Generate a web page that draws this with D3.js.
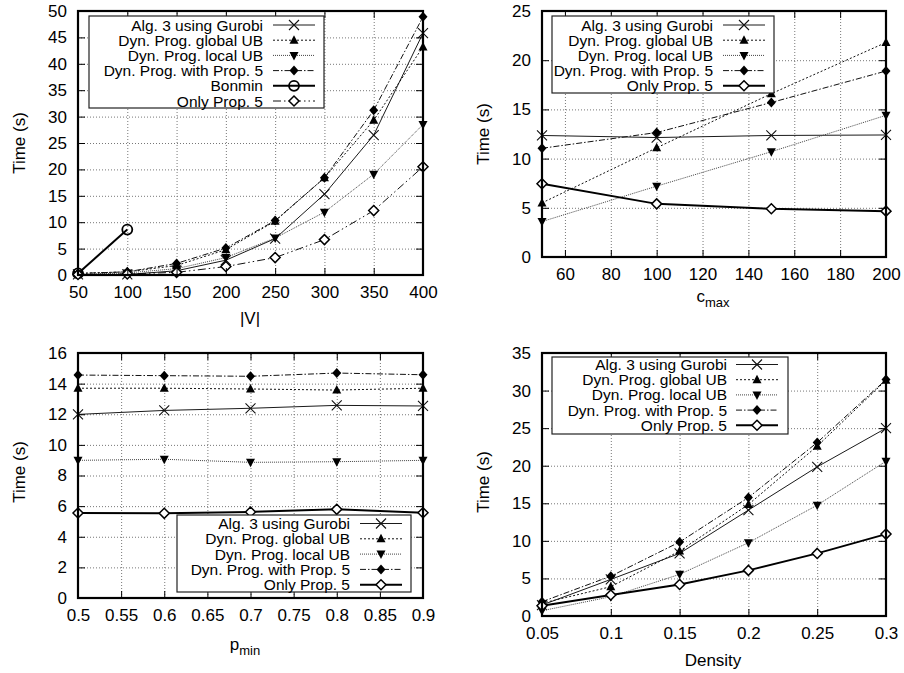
<!DOCTYPE html>
<html>
<head>
<meta charset="utf-8">
<script src="https://cdn.jsdelivr.net/npm/d3@7"></script>
<style>
  body { margin: 0; background: #fff; }
  svg { display: block; font-family: "Liberation Sans", Arial, sans-serif; }
</style>
</head>
<body>
<svg id="chart" width="904" height="673"></svg>
<script>
// ─── data ───────────────────────────────────────────────────────────────────
var LEGEND_NAMES = ['Alg. 3 using Gurobi', 'Dyn. Prog. global UB', 'Dyn. Prog. local UB',
  'Dyn. Prog. with Prop. 5', 'Bonmin', 'Only Prop. 5'];

// panel 1: |V|
var vSizes = [50, 100, 150, 200, 250, 300, 350, 400];
var vGurobi = [0.1, 0.1, 0.8, 2.8, 6.9, 15.3, 26.5, 45.8];
var vGlobalUB = [0.3, 0.6, 1.8, 4.8, 10.2, 18.4, 29.3, 43.2];
var vLocalUB = [0.1, 0.4, 1.2, 3.3, 7.0, 11.9, 19.1, 28.5];
var vWithProp5 = [0.3, 0.6, 2.2, 5.1, 10.3, 18.4, 31.2, 48.9];
var bonminSizes = [50, 100];
var vBonmin = [0.3, 8.6];
var vOnlyProp5 = [0.1, 0.2, 0.5, 1.6, 3.3, 6.7, 12.2, 20.5];
var vTicks = [50, 100, 150, 200, 250, 300, 350, 400];
var vTimeTicks = [0, 5, 10, 15, 20, 25, 30, 35, 40, 45, 50];

// panel 2: c_max
var cMax = [50, 100, 150, 200];
var cGurobi = [12.35, 12.14, 12.35, 12.4];
var cGlobalUB = [5.5, 11.1, 16.6, 21.8];
var cLocalUB = [3.6, 7.2, 10.7, 14.4];
var cWithProp5 = [11.05, 12.65, 15.7, 18.9];
var cOnlyProp5 = [7.45, 5.4, 4.9, 4.66];
var cTicks = [60, 80, 100, 120, 140, 160, 180, 200];
var cTimeTicks = [0, 5, 10, 15, 20, 25];

// panel 3: p_min
var pMin = [0.5, 0.6, 0.7, 0.8, 0.9];
var pGurobi = [11.99, 12.25, 12.39, 12.58, 12.54];
var pGlobalUB = [13.7, 13.7, 13.65, 13.58, 13.7];
var pLocalUB = [8.99, 9.06, 8.86, 8.9, 8.99];
var pWithProp5 = [14.56, 14.52, 14.48, 14.69, 14.58];
var pOnlyProp5 = [5.55, 5.53, 5.62, 5.79, 5.57];
var pTicks = [0.5, 0.55, 0.6, 0.65, 0.7, 0.75, 0.8, 0.85, 0.9];
var pTimeTicks = [0, 2, 4, 6, 8, 10, 12, 14, 16];

// panel 4: density
var density = [0.05, 0.1, 0.15, 0.2, 0.25, 0.3];
var dGurobi = [1.46, 4.87, 8.33, 14.09, 19.85, 24.99];
var dGlobalUB = [1.7, 3.9, 8.64, 14.84, 22.6, 31.37];
var dLocalUB = [0.7, 2.57, 5.54, 9.75, 14.75, 20.6];
var dWithProp5 = [1.9, 5.3, 9.84, 15.77, 23.08, 31.46];
var dOnlyProp5 = [1.37, 2.79, 4.2, 6.07, 8.33, 10.9];
var dTicks = [0.05, 0.1, 0.15, 0.2, 0.25, 0.3];
var dTimeTicks = [0, 5, 10, 15, 20, 25, 30, 35];

// ─── styles per series ──────────────────────────────────────────────────────
var STYLE = {
  gurobi:   { dash: null, width: 1, color: '#1a1a1a', marker: 'cross' },
  globalUB: { dash: '2 2', width: 1, color: '#111', marker: 'triUp' },
  localUB:  { dash: '1 1', width: 1, color: '#444', marker: 'triDown' },
  prop5:    { dash: '6 2 1.5 2', width: 1, color: '#111', marker: 'diamond' },
  bonmin:   { dash: null, width: 2, color: '#000', marker: 'circle' },
  onlyThin: { dash: '8 3 1.5 3 1.5 3', width: 1, color: '#111', marker: 'openDiamond' },
  onlyBold: { dash: null, width: 2, color: '#000', marker: 'openDiamond' }
};

var svg = d3.select('#chart');

function drawMarker(g, kind, x, y) {
  if (kind === 'cross') {
    g.append('path').attr('d', 'M' + (x - 5) + ',' + (y - 5) + 'L' + (x + 5) + ',' + (y + 5) +
      'M' + (x - 5) + ',' + (y + 5) + 'L' + (x + 5) + ',' + (y - 5))
      .attr('stroke', '#111').attr('stroke-width', 1.1).attr('fill', 'none');
  } else if (kind === 'triUp') {
    g.append('path').attr('d', 'M' + x + ',' + (y - 5) + 'L' + (x + 4.5) + ',' + (y + 3.5) +
      'L' + (x - 4.5) + ',' + (y + 3.5) + 'Z').attr('fill', '#000');
  } else if (kind === 'triDown') {
    g.append('path').attr('d', 'M' + x + ',' + (y + 5) + 'L' + (x + 4.5) + ',' + (y - 3.5) +
      'L' + (x - 4.5) + ',' + (y - 3.5) + 'Z').attr('fill', '#000');
  } else if (kind === 'diamond') {
    g.append('path').attr('d', 'M' + x + ',' + (y - 5) + 'L' + (x + 4.5) + ',' + y +
      'L' + x + ',' + (y + 5) + 'L' + (x - 4.5) + ',' + y + 'Z').attr('fill', '#000');
  } else if (kind === 'openDiamond') {
    g.append('path').attr('d', 'M' + x + ',' + (y - 5) + 'L' + (x + 5) + ',' + y +
      'L' + x + ',' + (y + 5) + 'L' + (x - 5) + ',' + y + 'Z')
      .attr('fill', '#fff').attr('stroke', '#000').attr('stroke-width', 1.5);
  } else if (kind === 'circle') {
    g.append('circle').attr('cx', x).attr('cy', y).attr('r', 5)
      .attr('fill', 'none').attr('stroke', '#000').attr('stroke-width', 1.8);
  }
}

function drawPanel(cfg) {
  var b = cfg.box;
  var x = d3.scaleLinear().domain(cfg.xDomain).range([b.left, b.right]);
  var y = d3.scaleLinear().domain(cfg.yDomain).range([b.bottom, b.top]);
  var g = svg.append('g');
  var w = b.right - b.left, h = b.bottom - b.top;

  // grid (dotted)
  var xg = cfg.xTicks.filter(function (t) { return x(t) > b.left + 1 && x(t) < b.right - 1; });
  var yg = cfg.yTicks.filter(function (t) { return y(t) > b.top + 1 && y(t) < b.bottom - 1; });
  g.append('g').attr('transform', 'translate(0,' + b.bottom + ')')
    .call(d3.axisBottom(x).tickValues(xg).tickSize(-h).tickFormat(''))
    .call(function (s) { s.select('.domain').remove(); })
    .selectAll('line').attr('stroke', '#777').attr('stroke-dasharray', '1 2');
  g.append('g').attr('transform', 'translate(' + b.left + ',0)')
    .call(d3.axisLeft(y).tickValues(yg).tickSize(-w).tickFormat(''))
    .call(function (s) { s.select('.domain').remove(); })
    .selectAll('line').attr('stroke', '#777').attr('stroke-dasharray', '1 2');

  // series lines + markers
  cfg.series.forEach(function (s) {
    var st = STYLE[s.style];
    var pts = s.xs.map(function (xv, i) { return [x(xv), y(s.ys[i])]; });
    g.append('path').attr('d', d3.line()(pts)).attr('fill', 'none')
      .attr('stroke', st.color).attr('stroke-width', st.width)
      .attr('stroke-dasharray', st.dash);
    pts.forEach(function (p) { drawMarker(g, st.marker, p[0], p[1]); });
  });

  // ticks: inward, mirrored on all sides
  var tickStyle = function (s) {
    s.select('.domain').remove();
    s.selectAll('line').attr('stroke', '#000').attr('stroke-width', 1);
    s.selectAll('text').attr('font-size', 17).attr('fill', '#000')
      .attr('font-family', '"Liberation Sans", Arial, sans-serif');
  };
  g.append('g').attr('transform', 'translate(0,' + b.bottom + ')')
    .call(d3.axisBottom(x).tickValues(cfg.xTicks).tickSize(-7).tickPadding(11)
      .tickFormat(cfg.xFormat)).call(tickStyle);
  g.append('g').attr('transform', 'translate(0,' + b.top + ')')
    .call(d3.axisTop(x).tickValues(cfg.xTicks).tickSize(-7).tickFormat('')).call(tickStyle);
  g.append('g').attr('transform', 'translate(' + b.left + ',0)')
    .call(d3.axisLeft(y).tickValues(cfg.yTicks).tickSize(-7).tickPadding(11)).call(tickStyle);
  g.append('g').attr('transform', 'translate(' + b.right + ',0)')
    .call(d3.axisRight(y).tickValues(cfg.yTicks).tickSize(-7).tickFormat('')).call(tickStyle);

  // frame
  g.append('rect').attr('x', b.left).attr('y', b.top).attr('width', w).attr('height', h)
    .attr('fill', 'none').attr('stroke', '#000').attr('stroke-width', 2.2);

  // legend
  var L = cfg.legend;
  var lg = g.append('g');
  lg.append('rect').attr('x', L.x0).attr('y', L.y0).attr('width', L.x1 - L.x0)
    .attr('height', L.y1 - L.y0).attr('fill', '#fff').attr('stroke', '#222').attr('stroke-width', 1.2);
  cfg.series.forEach(function (s, i) {
    var st = STYLE[s.style];
    var cy = L.rowTop + i * L.rowH;
    lg.append('text').attr('x', L.textRight).attr('y', cy).attr('dy', '0.36em')
      .attr('text-anchor', 'end').attr('font-size', 15.5).attr('fill', '#000').text(s.name);
    lg.append('line').attr('x1', L.sample0).attr('x2', L.sample1).attr('y1', cy).attr('y2', cy)
      .attr('stroke', st.color).attr('stroke-width', st.width).attr('stroke-dasharray', st.dash);
    drawMarker(lg, st.marker, (L.sample0 + L.sample1) / 2, cy);
  });

  // axis titles
  g.append('text').attr('transform', 'translate(' + cfg.yLabelPos[0] + ',' + cfg.yLabelPos[1] + ') rotate(-90)')
    .attr('text-anchor', 'middle').attr('dy', '0.35em').attr('font-size', 17).text('Time (s)');
  var xl = g.append('text').attr('x', cfg.xLabelPos[0]).attr('y', cfg.xLabelPos[1])
    .attr('text-anchor', 'middle').attr('font-size', 17);
  xl.append('tspan').text(cfg.xLabel[0]);
  if (cfg.xLabel[1]) {
    xl.append('tspan').attr('font-size', 13).attr('dy', 5).text(cfg.xLabel[1]);
  }
}

var fmt = function (d) { return String(d); };

drawPanel({
  box: { left: 78, right: 423, top: 11, bottom: 275 },
  xDomain: [50, 400], yDomain: [0, 50], xTicks: vTicks, yTicks: vTimeTicks, xFormat: fmt,
  xLabel: ['|V|'], xLabelPos: [250, 324], yLabelPos: [19, 143],
  legend: { x0: 89, x1: 324, y0: 16, y1: 108, rowTop: 25, rowH: 15.2, textRight: 263, sample0: 273, sample1: 315 },
  series: [
    { name: LEGEND_NAMES[0], xs: vSizes, ys: vGurobi, style: 'gurobi' },
    { name: LEGEND_NAMES[1], xs: vSizes, ys: vGlobalUB, style: 'globalUB' },
    { name: LEGEND_NAMES[2], xs: vSizes, ys: vLocalUB, style: 'localUB' },
    { name: LEGEND_NAMES[3], xs: vSizes, ys: vWithProp5, style: 'prop5' },
    { name: LEGEND_NAMES[4], xs: bonminSizes, ys: vBonmin, style: 'bonmin' },
    { name: LEGEND_NAMES[5], xs: vSizes, ys: vOnlyProp5, style: 'onlyThin' }
  ]
});

drawPanel({
  box: { left: 542, right: 886, top: 11, bottom: 257 },
  xDomain: [50, 200], yDomain: [0, 25], xTicks: cTicks, yTicks: cTimeTicks, xFormat: fmt,
  xLabel: ['c', 'max'], xLabelPos: [713, 302], yLabelPos: [483, 134],
  legend: { x0: 552, x1: 774, y0: 16, y1: 93, rowTop: 25, rowH: 15.2, textRight: 713, sample0: 723, sample1: 765 },
  series: [
    { name: LEGEND_NAMES[0], xs: cMax, ys: cGurobi, style: 'gurobi' },
    { name: LEGEND_NAMES[1], xs: cMax, ys: cGlobalUB, style: 'globalUB' },
    { name: LEGEND_NAMES[2], xs: cMax, ys: cLocalUB, style: 'localUB' },
    { name: LEGEND_NAMES[3], xs: cMax, ys: cWithProp5, style: 'prop5' },
    { name: LEGEND_NAMES[5], xs: cMax, ys: cOnlyProp5, style: 'onlyBold' }
  ]
});

drawPanel({
  box: { left: 78, right: 423, top: 353, bottom: 598 },
  xDomain: [0.5, 0.9], yDomain: [0, 16], xTicks: pTicks, yTicks: pTimeTicks, xFormat: fmt,
  xLabel: ['p', 'min'], xLabelPos: [245, 650], yLabelPos: [19, 472],
  legend: { x0: 177, x1: 411, y0: 515, y1: 592, rowTop: 523.5, rowH: 15.3, textRight: 350, sample0: 360, sample1: 402 },
  series: [
    { name: LEGEND_NAMES[0], xs: pMin, ys: pGurobi, style: 'gurobi' },
    { name: LEGEND_NAMES[1], xs: pMin, ys: pGlobalUB, style: 'globalUB' },
    { name: LEGEND_NAMES[2], xs: pMin, ys: pLocalUB, style: 'localUB' },
    { name: LEGEND_NAMES[3], xs: pMin, ys: pWithProp5, style: 'prop5' },
    { name: LEGEND_NAMES[5], xs: pMin, ys: pOnlyProp5, style: 'onlyBold' }
  ]
});

drawPanel({
  box: { left: 542, right: 886, top: 353, bottom: 616 },
  xDomain: [0.05, 0.3], yDomain: [0, 35], xTicks: dTicks, yTicks: dTimeTicks, xFormat: fmt,
  xLabel: ['Density'], xLabelPos: [713, 666], yLabelPos: [483, 482],
  legend: { x0: 552, x1: 788, y0: 357, y1: 434, rowTop: 364.5, rowH: 15.2, textRight: 727, sample0: 736, sample1: 778 },
  series: [
    { name: LEGEND_NAMES[0], xs: density, ys: dGurobi, style: 'gurobi' },
    { name: LEGEND_NAMES[1], xs: density, ys: dGlobalUB, style: 'globalUB' },
    { name: LEGEND_NAMES[2], xs: density, ys: dLocalUB, style: 'localUB' },
    { name: LEGEND_NAMES[3], xs: density, ys: dWithProp5, style: 'prop5' },
    { name: LEGEND_NAMES[5], xs: density, ys: dOnlyProp5, style: 'onlyBold' }
  ]
});
</script>
</body>
</html>
